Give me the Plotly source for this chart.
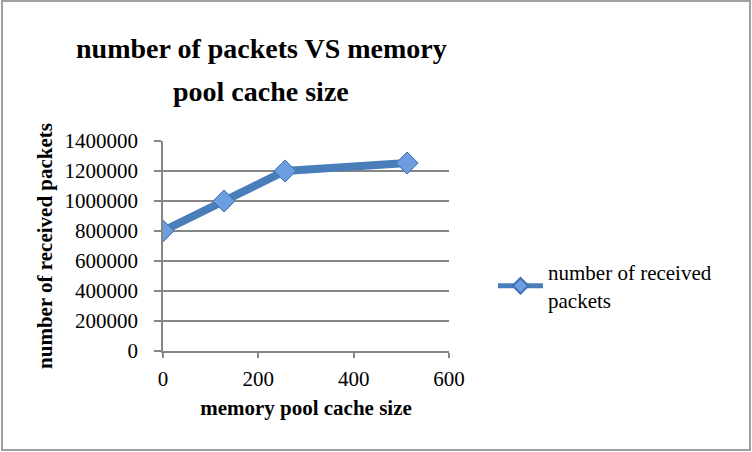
import plotly.graph_objects as go

cache_size = [0, 128, 256, 512]
received_packets = [800000, 1000000, 1200000, 1253000]
series_name = "number of received<br>packets"
title_lines = ["number of packets VS memory", "pool cache size"]
x_title = "memory pool cache size"
y_title = "number of received packets"

W, H = 752, 452
L, R, T, B = 163, 449, 141, 351
pw, ph = R - L, B - T

def px2x(p):
    return (p - L) / pw

def px2y(p):
    return (B - p) / ph

serif = "Liberation Serif"
gray = "#868686"

fig = go.Figure()
fig.add_trace(go.Scatter(
    x=cache_size, y=received_packets, name=series_name,
    mode="lines+markers",
    line=dict(color="#4a7ebb", width=8),
    marker=dict(symbol="diamond", size=17, color="#6c9de0",
                line=dict(color="#3e70b0", width=1)),
))

title_tops = [31, 74]
annotations = [
    dict(text="<b>" + t + "</b>", xref="paper", yref="paper",
         x=px2x(261), y=px2y(top), xanchor="center", yanchor="top",
         showarrow=False, font=dict(family=serif, size=28, color="black"))
    for t, top in zip(title_lines, title_tops)
]

fig.update_layout(
    width=W, height=H,
    margin=dict(l=L, r=W - R, t=T, b=H - B),
    paper_bgcolor="white", plot_bgcolor="white",
    showlegend=True,
    annotations=annotations,
    legend=dict(x=px2x(493), xanchor="left", y=px2y(252), yanchor="top",
                font=dict(family=serif, size=21, color="black"),
                bgcolor="rgba(0,0,0,0)", tracegroupgap=0, itemsizing="constant",
                itemwidth=45),
    xaxis=dict(range=[0, 600], dtick=200, tick0=0, showgrid=False, zeroline=False,
               showline=True, linecolor=gray, linewidth=1.5,
               ticks="outside", ticklen=5, tickcolor=gray, tickwidth=1.5,
               ticklabelstandoff=3,
               tickfont=dict(family=serif, size=21, color="black"),
               title=dict(text="<b>" + x_title + "</b>", standoff=10,
                          font=dict(family=serif, size=21, color="black"))),
    yaxis=dict(range=[0, 1400000], dtick=200000, tick0=0, showgrid=True,
               gridcolor=gray, gridwidth=1.5, zeroline=False,
               showline=True, linecolor=gray, linewidth=1.5,
               ticks="outside", ticklen=7, tickcolor=gray, tickwidth=1.5,
               ticklabelstandoff=12, tickformat="d",
               tickfont=dict(family=serif, size=21, color="black"),
               title=dict(text="<b>" + y_title + "</b>", standoff=6,
                          font=dict(family=serif, size=21, color="black"))),
    shapes=[dict(type="rect", xref="paper", yref="paper",
                 x0=px2x(2), x1=px2x(750), y0=px2y(450), y1=px2y(1),
                 line=dict(color="#a0a0a0", width=2), layer="below")],
)

fig.write_html("out.html", config={"displayModeBar": False},
               post_script="document.body.style.margin='0';document.body.style.overflow='hidden';")
